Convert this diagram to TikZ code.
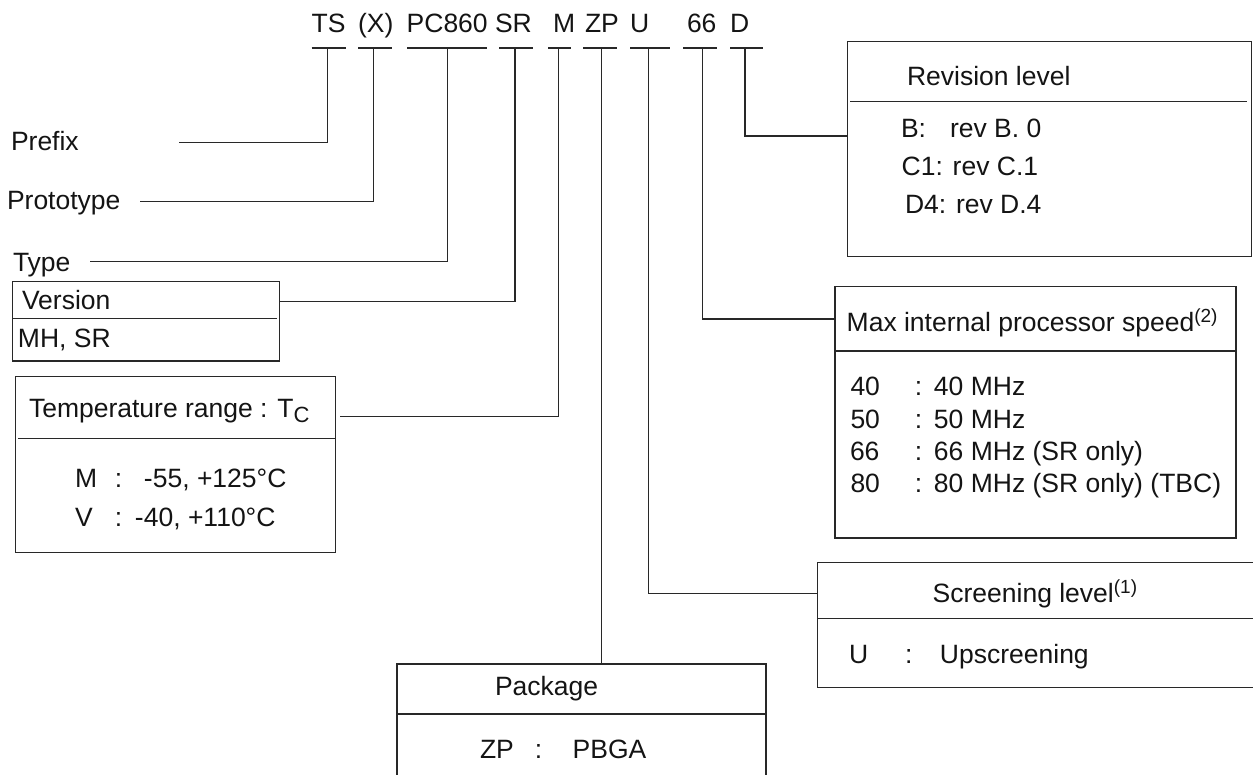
\documentclass[tikz,border=0pt]{standalone}
\usepackage{fontspec}
\setmainfont{Liberation Sans}
\usetikzlibrary{fit,calc}
\definecolor{ln}{RGB}{40,40,40}
\definecolor{tx}{RGB}{20,20,20}
\newcommand{\supx}[1]{\raisebox{0.62ex}{\fontsize{9.5}{9.5}\selectfont #1}}
\newcommand{\subx}[1]{\raisebox{-0.4ex}{\fontsize{11}{11}\selectfont #1}}
\begin{document}
\begin{tikzpicture}[x=0.5pt,y=-0.5pt,
  conn/.style={draw=ln,line width=0.55pt},
  box/.style={draw=ln,line width=0.55pt,inner sep=0pt,outer sep=0pt},
  lbl/.style={inner sep=0pt,outer sep=0pt,anchor=base west,text=tx,font=\fontsize{13.25}{16}\selectfont}]
\useasboundingbox (0,0) rectangle (1253,775);
\clip (0,0) rectangle (1253,775);
\fill[white] (0,0) rectangle (1253,775);

% ---- code letters
\node[lbl] (cTS) at (311.7,33) {TS};
\node[lbl] (cX)  at (358,33) {(X)};
\node[lbl] (cPC) at (406.7,33) {PC860};
\node[lbl] (cSR) at (495,33) {SR};
\node[lbl] (cM)  at (553,33) {M};
\node[lbl] (cZP) at (585,33) {ZP};
\node[lbl] (cU)  at (630,33) {U};
\node[lbl] (c66) at (687,33) {66};
\node[lbl] (cD)  at (730,33) {D};
\draw[conn] (311.7,48) -- (346,48);
\draw[conn] (358,48) -- (392,48);
\draw[conn] (407,48) -- (487,48);
\draw[conn] (499,48) -- (533,48);
\draw[conn] (548,48) -- (571,48);
\draw[conn] (583,48) -- (617,48);
\draw[conn] (630,48) -- (670,48);
\draw[conn] (683,48) -- (717,48);
\draw[conn] (730,48) -- (763,48);
\coordinate (tTS) at (327.5,48);
\coordinate (tX)  at (373.3,48);
\coordinate (tPC) at (447.8,48);
\coordinate (tSR) at (515,48);
\coordinate (tM)  at (558.3,48);
\coordinate (tZP) at (601.7,48);
\coordinate (tU)  at (648.3,48);
\coordinate (t66) at (702.3,48);
\coordinate (tD)  at (745,48);

% ---- left labels
\node[lbl] (prefix) at (11,150.5) {Prefix};
\coordinate (pfL) at (179,142.7);
\draw[conn] (pfL) -| (tTS);
\node[lbl] (proto) at (7,210) {Prototype};
\coordinate (ptL) at (140,201.7);
\draw[conn] (ptL) -| (tX);
\node[lbl] (type) at (13,271) {Type};
\coordinate (tyL) at (90,261.7);
\draw[conn] (tyL) -| (tPC);

% ---- version box
\coordinate (vNW) at (12.7,281.7); \coordinate (vSE) at (279.3,361);
\node[box,fit=(vNW)(vSE)] (ver) {};
\draw[conn] (12.7,318.3) -- (276.7,318.3);
\node[lbl] (verT) at (22,310) {Version};
\node[lbl] (verV) at (18,348) {MH, SR};
\draw[conn] (ver.east |- 0,301.7) -| (tSR);

% ---- temperature box
\coordinate (tpNW) at (15.7,376.7); \coordinate (tpSE) at (335.7,552.7);
\node[box,fit=(tpNW)(tpSE)] (temp) {};
\draw[conn] (18,438.3) -- (335.7,438.3);
\node[lbl] (tempT) at (29,417) {Temperature range : T\subx{C}};
\node[lbl] (tempM) at (75,487.5) {\makebox[20pt][l]{M}\makebox[14.5pt][l]{:}-55, +125°C};
\node[lbl] (tempV) at (75,526) {\makebox[20pt][l]{V}\makebox[10pt][l]{:}-40, +110°C};
\coordinate (tpR) at (340,416.7);
\draw[conn] (tpR) -| (tM);

% ---- revision box
\coordinate (rNW) at (847.7,41.7); \coordinate (rSE) at (1251.5,256.7);
\node[box,fit=(rNW)(rSE)] (rev) {};
\draw[conn] (850,101.7) -- (1246.7,101.7);
\node[lbl] (revT) at (907,86) {Revision level};
\node[lbl] (revB) at (901,138) {\makebox[24.5pt][l]{B:}rev B. 0};
\node[lbl] (revC) at (901.7,176) {C1: rev C.1};
\node[lbl] (revD) at (905,214) {D4: rev D.4};
\draw[conn] (tD) |- (rev.west |- 0,136);

% ---- max speed box
\coordinate (sNW) at (835,286.7); \coordinate (sSE) at (1236,538);
\node[box,fit=(sNW)(sSE)] (spd) {};
\draw[draw=ln,line width=0.8pt] (835,286.7) rectangle (1236,350.7);
\node[lbl] (spdT) at (846.7,331) {Max internal processor speed\supx{(2)}};
\node[lbl] (s40) at (850.5,395) {\makebox[32.25pt][l]{40}\makebox[9.5pt][l]{:}40 MHz};
\node[lbl] (s50) at (850.5,428) {\makebox[32.25pt][l]{50}\makebox[9.5pt][l]{:}50 MHz};
\node[lbl] (s66) at (850,460) {\makebox[32.5pt][l]{66}\makebox[9.5pt][l]{:}66 MHz (SR only)};
\node[lbl] (s80) at (850.5,492) {\makebox[32.25pt][l]{80}\makebox[9.5pt][l]{:}80 MHz (SR only) (TBC)};
\draw[conn] (t66) |- (spd.west |- 0,319);

% ---- screening box
\coordinate (scNW) at (817.7,562.7); \coordinate (scSE) at (1275,687.3);
\node[box,fit=(scNW)(scSE)] (scr) {};
\draw[conn] (817.7,618.3) -- (1275,618.3);
\node[lbl] (scrT) at (932.7,602) {Screening level\supx{(1)}};
\node[lbl] (scrU) at (849,663) {\makebox[28pt][l]{U}\makebox[17.5pt][l]{:}Upscreening};
\draw[conn] (tU) |- (scr.west |- 0,593.3);

% ---- package box
\coordinate (pNW) at (397,664); \coordinate (pSE) at (766,800);
\node[box,fit=(pNW)(pSE)] (pkg) {};
\draw[conn] (397,714) -- (766,714);
\node[lbl] (pkgT) at (495,695) {Package};
\node[lbl] (pkgV) at (480,758) {\makebox[27.5pt][l]{ZP}\makebox[18.85pt][l]{:}PBGA};
\draw[conn] (tZP) -- (tZP |- pkg.north);
\end{tikzpicture}
\end{document}
